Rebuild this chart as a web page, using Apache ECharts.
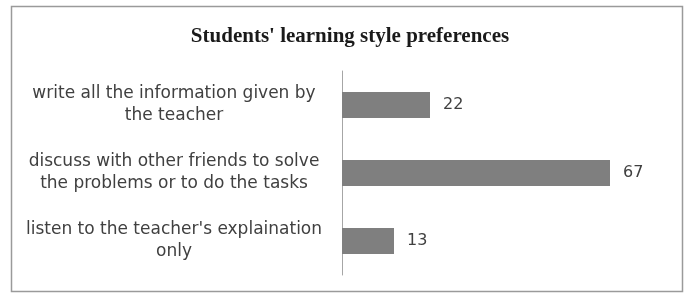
<!DOCTYPE html>
<html>
<head>
<meta charset="utf-8">
<script src="https://cdn.jsdelivr.net/npm/echarts@6/dist/echarts.min.js"></script>
<style>
  html, body { margin: 0; padding: 0; background: #fff; }
  #chart { width: 688px; height: 293px; }
</style>
</head>
<body>
<div id="chart"></div>
<script>
// categories, top to bottom
const categories = [
  'write all the information given by\nthe teacher',
  'discuss with other friends to solve\nthe problems or to do the tasks',
  "listen to the teacher's explaination\nonly"
]
const values = [22, 67, 13]

const chart = echarts.init(document.getElementById('chart'))

chart.setOption({
  animation: false,
  title: {
    text: "Students' learning style preferences",
    left: 345,
    top: 21,
    textAlign: 'center',
    textStyle: {
      fontFamily: 'Liberation Serif',
      fontWeight: 'bold',
      fontSize: 21,
      color: '#1a1a1a'
    }
  },
  graphic: [{
    type: 'rect',
    shape: { x: 11.5, y: 6.5, width: 671, height: 285 },
    style: { fill: 'none', stroke: '#9a9a9a', lineWidth: 1.5 },
    silent: true
  }],
  grid: {
    left: 342,
    top: 71,
    width: 320,
    height: 204
  },
  xAxis: {
    type: 'value',
    min: 0,
    max: 80,
    show: false
  },
  yAxis: {
    type: 'category',
    data: categories,
    inverse: true,
    axisLine: { lineStyle: { color: '#a6a6a6', width: 1 } },
    axisTick: { show: false },
    axisLabel: {
      margin: 168,
      align: 'center',
      fontFamily: 'DejaVu Sans',
      fontSize: 17,
      lineHeight: 22,
      color: '#404040'
    }
  },
  series: [{
    type: 'bar',
    data: values,
    barWidth: 26,
    itemStyle: { color: '#7f7f7f' },
    label: {
      show: true,
      position: 'right',
      distance: 13,
      fontFamily: 'DejaVu Sans',
      fontSize: 16,
      color: '#404040'
    }
  }]
})
</script>
</body>
</html>
